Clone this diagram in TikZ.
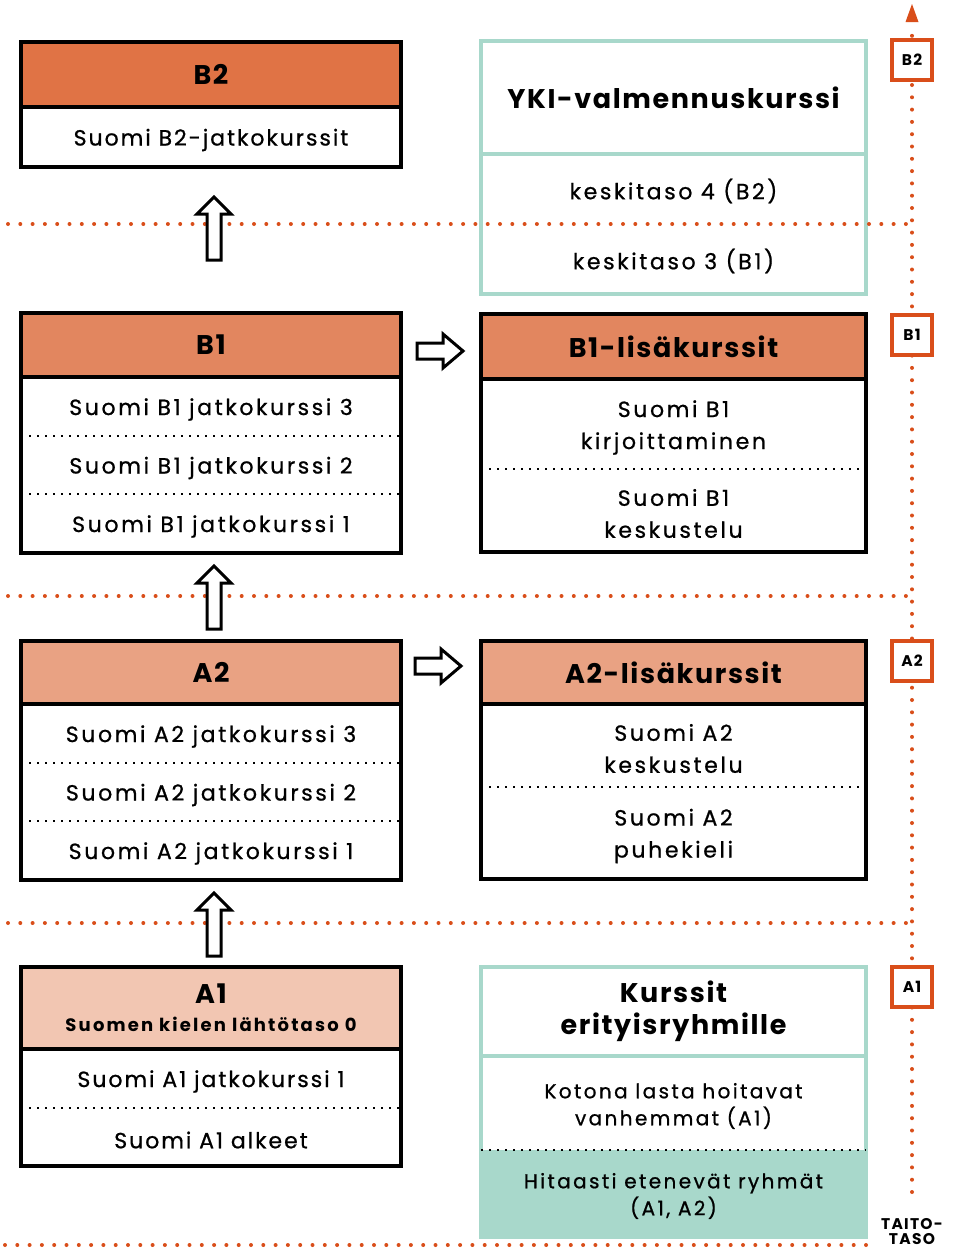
\documentclass[tikz,border=0pt]{standalone}
\usepackage{fontspec}
\setmainfont{Poppins}
\newfontfamily\PopBody[LetterSpace=12, FakeBold=0.8]{Poppins}
\newfontfamily\PopBodyN[LetterSpace=9, FakeBold=0.8]{Poppins}
\newfontfamily\PopHead[LetterSpace=6]{Poppins}
\newfontfamily\PopSub[LetterSpace=12]{Poppins}
\newfontfamily\PopLvl[LetterSpace=8]{Poppins}
\newcommand\BodyF{\PopBody\fontsize{22}{32}\selectfont}
\newcommand\BodyNF{\PopBodyN\fontsize{22}{32}\selectfont}
\newcommand\SmallF{\PopBody\fontsize{20}{27}\selectfont}
\newcommand\HeadF{\PopHead\bfseries\fontsize{27}{32}\selectfont}
\newcommand\SubF{\PopSub\bfseries\fontsize{18}{22}\selectfont}
\newcommand\LvlF{\PopLvl\bfseries\fontsize{15.5}{18}\selectfont}
\definecolor{cB2}{HTML}{E07345}
\definecolor{cB1}{HTML}{E2865F}
\definecolor{cA2}{HTML}{E9A283}
\definecolor{cA1}{HTML}{F2C6B2}
\definecolor{cTeal}{HTML}{A8D8CB}
\definecolor{cOr}{HTML}{D94E1A}
\tikzset{
  uparr/.pic={\draw[barrow] (0,0) -- (17,17) -- (7,17) -- (7,63) -- (-7,63) -- (-7,17) -- (-17,17) -- cycle;},
  rarr/.pic={\draw[barrow] (0,-8) -- (26,-8) -- (26,-17) -- (46,0) -- (26,17) -- (26,8) -- (0,8) -- cycle;}
}
\begin{document}
\begin{tikzpicture}[x=1pt,y=-1pt,
  cell/.style={rectangle, inner sep=0pt, outer sep=0pt, align=center, minimum width=380pt},
  rcell/.style={cell, minimum width=385pt},
  txt/.style={inner sep=0pt, align=center},
  frame/.style={draw=black, line width=3.4pt},
  tframe/.style={draw=cTeal, line width=4pt},
  div/.style={draw=black, line width=2pt, dash pattern=on 2pt off 6pt},
  lvl/.style={draw=cOr, line width=4pt, line cap=round, dash pattern=on 0pt off 12.3pt},
  lvlbox/.style={draw=cOr, line width=3.5pt, fill=white, minimum width=40pt, minimum height=40pt, inner sep=0pt, font=\LvlF},
  barrow/.style={draw=black, line width=3pt, fill=white, line join=miter},
]
\useasboundingbox (0,0) rectangle (955,1248);

% ---------- axis ----------
\coordinate (axb) at (912,1192);
\coordinate (axt) at (912,24);
\draw[lvl] (axb) -- (axt);
\fill[cOr] (905.5,22) -- (918.5,22) -- (912,4) -- cycle;

% ---------- B2 ----------
\node[cell, fill=cB2, minimum height=65pt, font=\HeadF] (b2h) at (211,74.5) {B2};
\node[cell, minimum height=60pt] (b2r) at (211,137) {};
\node[txt, font=\PopBodyN\fontsize{22}{32}\selectfont] (b2rt) at ([yshift=-3pt]b2r.center) {Suomi B2-jatkokurssit};
\draw[frame] (b2h.north west) rectangle (b2r.south east);
\draw[frame] (b2h.south west) -- (b2h.south east);

% ---------- YKI ----------
\node[rcell, minimum height=113pt, font=\HeadF] (ykih) at (673.5,97.5) {YKI-valmennuskurssi};
\node[rcell, minimum height=70pt] (yk4) at (673.5,189) {};
\node[rcell, minimum height=70pt] (yk3) at (673.5,259) {};
\node[txt, font=\BodyF] (yk4t) at ([yshift=-2pt]yk4.center) {keskitaso 4 (B2)};
\node[txt, font=\BodyF] (yk3t) at ([yshift=-2pt]yk3.center) {keskitaso 3 (B1)};
\draw[tframe] (ykih.north west) rectangle (yk3.south east);
\draw[tframe] (ykih.south west) -- (ykih.south east);

% ---------- B1 ----------
\node[cell, fill=cB1, minimum height=64pt, font=\HeadF] (b1h) at (211,345) {B1};
\node[cell, minimum height=59pt] (b1c) at (211,406.5) {};
\node[cell, minimum height=58pt] (b1b) at (211,465) {};
\node[cell, minimum height=59pt] (b1a) at (211,523.5) {};
\node[txt, font=\BodyF] (b1ct) at ([yshift=-3pt]b1c.center) {Suomi B1 jatkokurssi 3};
\node[txt, font=\BodyF] (b1bt) at ([yshift=-3pt]b1b.center) {Suomi B1 jatkokurssi 2};
\node[txt, font=\BodyF] (b1at) at ([yshift=-3pt]b1a.center) {Suomi B1 jatkokurssi 1};
\draw[frame] (b1h.north west) rectangle (b1a.south east);
\draw[frame] (b1h.south west) -- (b1h.south east);
\draw[div] (b1c.south west) -- (b1c.south east);
\draw[div] (b1b.south west) -- (b1b.south east);

% ---------- B1-lisa ----------
\node[rcell, fill=cB1, minimum height=65pt, font=\HeadF] (b1lh) at (673.5,346.5) {B1-lisäkurssit};
\node[rcell, minimum height=90pt] (b1l1) at (673.5,424) {};
\node[rcell, minimum height=83pt] (b1l2) at (673.5,510.5) {};
\node[txt, font=\BodyF] (b1l1t) at ([yshift=-3.5pt]b1l1.center) {Suomi B1\\kirjoittaminen};
\node[txt, font=\BodyF] (b1l2t) at ([yshift=-3pt]b1l2.center) {Suomi B1\\keskustelu};
\draw[frame] (b1lh.north west) rectangle (b1l2.south east);
\draw[frame] (b1lh.south west) -- (b1lh.south east);
\draw[div] (b1l1.south west) -- (b1l1.south east);

% ---------- A2 ----------
\node[cell, fill=cA2, minimum height=63pt, font=\HeadF] (a2h) at (211,672.5) {A2};
\node[cell, minimum height=59pt] (a2c) at (211,733.5) {};
\node[cell, minimum height=58pt] (a2b) at (211,792) {};
\node[cell, minimum height=59pt] (a2a) at (211,850.5) {};
\node[txt, font=\BodyF] (a2ct) at ([yshift=-3pt]a2c.center) {Suomi A2 jatkokurssi 3};
\node[txt, font=\BodyF] (a2bt) at ([yshift=-3pt]a2b.center) {Suomi A2 jatkokurssi 2};
\node[txt, font=\BodyF] (a2at) at ([yshift=-3pt]a2a.center) {Suomi A2 jatkokurssi 1};
\draw[frame] (a2h.north west) rectangle (a2a.south east);
\draw[frame] (a2h.south west) -- (a2h.south east);
\draw[div] (a2c.south west) -- (a2c.south east);
\draw[div] (a2b.south west) -- (a2b.south east);

% ---------- A2-lisa ----------
\node[rcell, fill=cA2, minimum height=63pt, font=\HeadF] (a2lh) at (673.5,672.5) {A2-lisäkurssit};
\node[rcell, minimum height=83pt] (a2l1) at (673.5,745.5) {};
\node[rcell, minimum height=92pt] (a2l2) at (673.5,833) {};
\node[txt, font=\BodyF] (a2l1t) at ([yshift=-3pt]a2l1.center) {Suomi A2\\keskustelu};
\node[txt, font=\BodyF] (a2l2t) at ([yshift=-3pt]a2l2.center) {Suomi A2\\puhekieli};
\draw[frame] (a2lh.north west) rectangle (a2l2.south east);
\draw[frame] (a2lh.south west) -- (a2lh.south east);
\draw[div] (a2l1.south west) -- (a2l1.south east);

% ---------- A1 ----------
\node[cell, fill=cA1, minimum height=82pt, font=\HeadF] (a1h) at (211,1008) {A1\\[-4pt]{\SubF Suomen kielen lähtötaso 0}};
\node[cell, minimum height=59pt] (a1b) at (211,1078.5) {};
\node[cell, minimum height=58pt] (a1a) at (211,1137) {};
\node[txt, font=\BodyNF] (a1bt) at ([yshift=-3pt]a1b.center) {Suomi A1 jatkokurssi 1};
\node[txt, font=\BodyNF] (a1at) at ([yshift=-3pt]a1a.center) {Suomi A1 alkeet};
\draw[frame] (a1h.north west) rectangle (a1a.south east);
\draw[frame] (a1h.south west) -- (a1h.south east);
\draw[div] (a1b.south west) -- (a1b.south east);

% ---------- Kurssit erityisryhmille ----------
\node[rcell, minimum height=89pt, font=\HeadF] (kh) at (673.5,1011.5) {Kurssit\\erityisryhmille};
\node[rcell, minimum height=94pt] (k1) at (673.5,1103) {};
\node[rcell, fill=cTeal, minimum height=87pt] (k2) at (673.5,1193.5) {};
\node[txt, font=\SmallF] (k1t) at ([yshift=-3pt]k1.center) {Kotona lasta hoitavat\\vanhemmat (A1)};
\node[txt, font=\SmallF] (k2t) at ([yshift=-2.5pt]k2.center) {Hitaasti etenevät ryhmät\\(A1, A2)};
\draw[tframe] (kh.north west) rectangle (k2.south east);
\draw[tframe] (kh.south west) -- (kh.south east);
\draw[div] (k1.south west) -- (k1.south east);

% ---------- level lines ----------
\draw[lvl] (8,224) -- (906,224);
\draw[lvl] (8,596) -- (906,596);
\draw[lvl] (8,923) -- (906,923);
\draw[lvl] (5,1245) -- (870,1245);

% ---------- block arrows ----------
\pic (u1) at (214,197) {uparr};
\pic (u2) at (214,566) {uparr};
\pic (u3) at (214,893) {uparr};
\pic (r1) at (417,351) {rarr};
\pic (r2) at (415,666) {rarr};

% ---------- level boxes ----------
\node[lvlbox] (lB2) at (912,60) {B2};
\node[lvlbox] (lB1) at (912,335) {B1};
\node[lvlbox] (lA2) at (912,661) {A2};
\node[lvlbox] (lA1) at (912,987) {A1};
\node[font=\LvlF, align=center, inner sep=0pt] (taito) at (912,1232) {TAITO-\\[-3pt]TASO};
\end{tikzpicture}
\end{document}
